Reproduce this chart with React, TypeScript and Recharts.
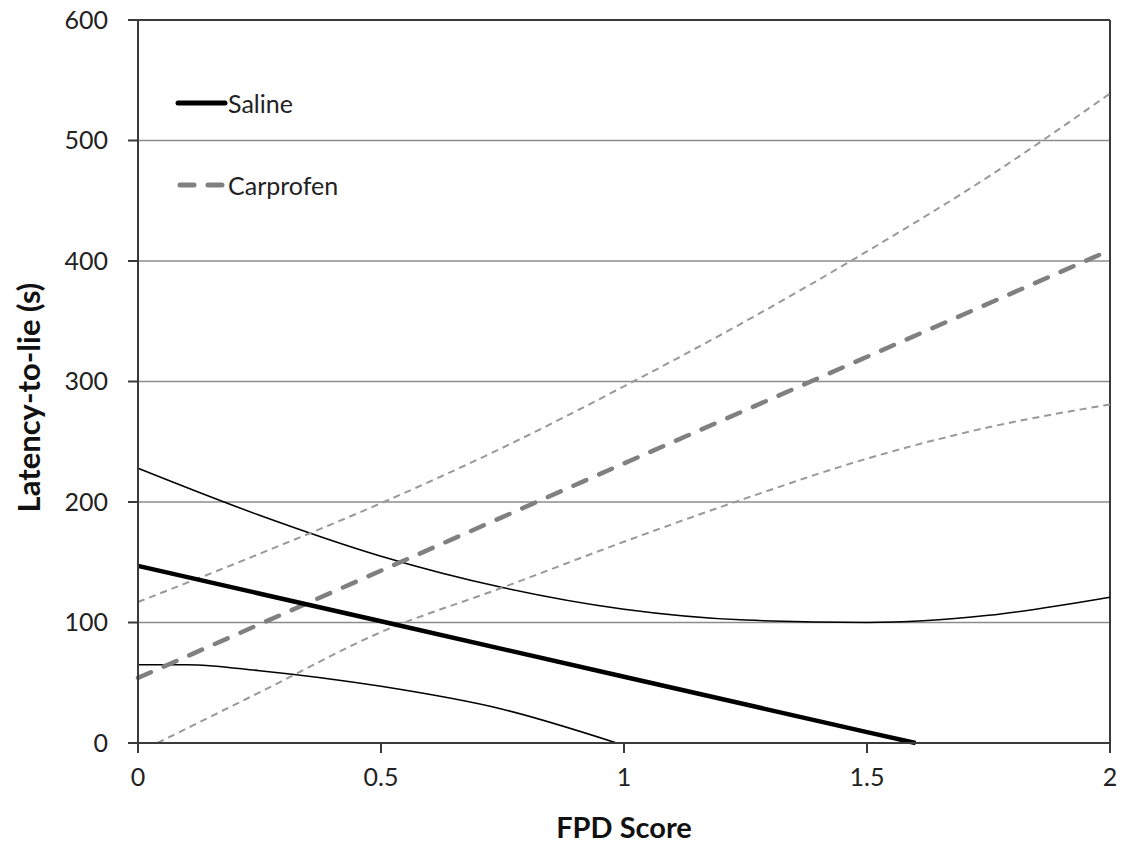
import { LineChart, Line, XAxis, YAxis, CartesianGrid, ReferenceLine } from "recharts"

// FPD score positions
const ciScores = [0, 0.25, 0.5, 0.75, 1, 1.25, 1.5, 1.75, 2]

const salineScores = [0, 0.5, 1, 1.5, 1.6]
const salineFit = [147, 101, 55, 9, 0]
const salineUpper = [228, 189, 155, 129, 111, 102, 100, 106, 121]
const salineLowerScores = [0, 0.1, 0.25, 0.5, 0.75, 0.985]
const salineLower = [65, 65, 60, 47, 28, 0]

const carprofenScores = [0, 1, 2]
const carprofenFit = [54, 232, 409]
const carprofenUpper = [117, 157, 199, 245, 296, 350, 408, 470, 539]
const carprofenLowerScores = [0.04, 0.25, 0.5, 0.75, 1, 1.25, 1.5, 1.75, 2]
const carprofenLower = [0, 42, 92, 129, 167, 203, 236, 262, 281]

const xTicks = [0, 0.5, 1, 1.5, 2]
const yTicks = [0, 100, 200, 300, 400, 500, 600]

const legendNames = ["Saline", "Carprofen"]

const toPoints = (xs: number[], ys: number[]) => xs.map((x, i) => ({ fpd: x, latency: ys[i] }))

const FONT = "Lato, 'Open Sans', sans-serif"
const AXIS = "#3a3a3a"
const GREY = "#808080"

export default function App() {
  return (
    <div style={{ position: "relative", width: 1110, height: 847, marginTop: -8, fontFamily: FONT }}>
      <LineChart width={1110} height={847} margin={{ top: 20, right: 8, left: 70, bottom: 64 }}>
        <CartesianGrid horizontal vertical={false} stroke="#8c8c8c" strokeWidth={1.5} />
        <XAxis
          type="number"
          dataKey="fpd"
          domain={[0, 2]}
          ticks={xTicks}
          height={40}
          tickSize={10}
          tickMargin={15}
          stroke={AXIS}
          strokeWidth={2}
          tick={{ fontSize: 25, fill: "#222", fontFamily: FONT }}
          label={{
            value: "FPD Score",
            position: "bottom",
            offset: 34,
            style: { fontSize: 29, fontWeight: 700, fill: "#111", fontFamily: FONT },
          }}
        />
        <YAxis
          type="number"
          dataKey="latency"
          domain={[0, 600]}
          ticks={yTicks}
          width={60}
          tickSize={10}
          tickMargin={20}
          stroke={AXIS}
          strokeWidth={2}
          tick={{ fontSize: 25, fill: "#222", fontFamily: FONT }}
          label={{
            content: ({ viewBox }: any) => {
              const cx = viewBox.x - 50
              const cy = viewBox.y + viewBox.height / 2 + 16
              return (
                <text
                  x={cx}
                  y={cy}
                  transform={`rotate(-90 ${cx} ${cy})`}
                  textAnchor="middle"
                  dominantBaseline="central"
                  style={{ fontSize: 31, fontWeight: 700, fill: "#111", fontFamily: FONT }}
                >
                  Latency-to-lie (s)
                </text>
              )
            },
          }}
        />
        <ReferenceLine y={600} stroke={AXIS} strokeWidth={2} />
        <ReferenceLine x={2} stroke={AXIS} strokeWidth={2} />

        {/* confidence bands */}
        <Line
          data={toPoints(ciScores, salineUpper)}
          dataKey="latency"
          type="monotone"
          stroke="#000"
          strokeWidth={1.5}
          dot={false}
          isAnimationActive={false}
        />
        <Line
          data={toPoints(salineLowerScores, salineLower)}
          dataKey="latency"
          type="monotone"
          stroke="#000"
          strokeWidth={1.5}
          dot={false}
          isAnimationActive={false}
        />
        <Line
          data={toPoints(ciScores, carprofenUpper)}
          dataKey="latency"
          type="monotone"
          stroke="#999"
          strokeWidth={2}
          strokeDasharray="7 5"
          dot={false}
          isAnimationActive={false}
        />
        <Line
          data={toPoints(carprofenLowerScores, carprofenLower)}
          dataKey="latency"
          type="monotone"
          stroke="#999"
          strokeWidth={2}
          strokeDasharray="7 5"
          dot={false}
          isAnimationActive={false}
        />

        {/* fitted lines */}
        <Line
          data={toPoints(carprofenScores, carprofenFit)}
          dataKey="latency"
          type="linear"
          stroke={GREY}
          strokeWidth={4.5}
          strokeDasharray="14 14"
          strokeLinecap="round"
          dot={false}
          isAnimationActive={false}
        />
        <Line
          data={toPoints(salineScores, salineFit)}
          dataKey="latency"
          type="linear"
          stroke="#000"
          strokeWidth={4.5}
          dot={false}
          isAnimationActive={false}
        />
      </LineChart>

      <svg style={{ position: "absolute", left: 165, top: 83 }} width={220} height={130}>
        <line x1={5} y1={20} x2={52} y2={20} stroke="#000" strokeWidth={5} strokeLinecap="round" />
        <text x={55} y={20} dominantBaseline="central" style={{ fontSize: 25, fill: "#222", fontFamily: FONT }}>
          {legendNames[0]}
        </text>
        <line
          x1={7}
          y1={102}
          x2={52}
          y2={102}
          stroke={GREY}
          strokeWidth={5}
          strokeDasharray="14 14"
          strokeLinecap="round"
        />
        <text x={55} y={102} dominantBaseline="central" style={{ fontSize: 25, fill: "#222", fontFamily: FONT }}>
          {legendNames[1]}
        </text>
      </svg>
    </div>
  )
}
